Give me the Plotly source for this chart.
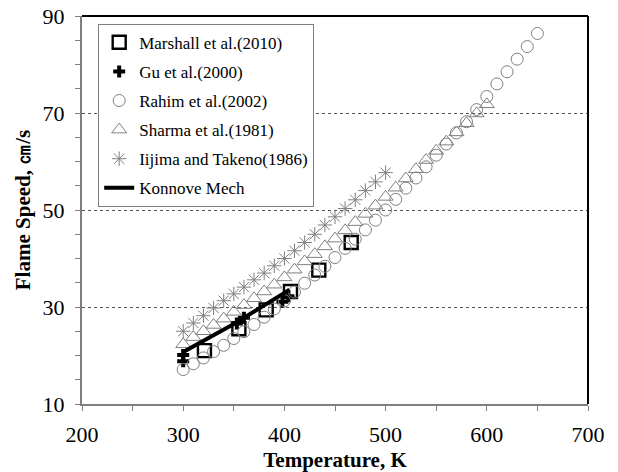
import plotly.graph_objects as go

# ---------------- data ----------------
rahim_T = [300, 310, 320, 330, 340, 350, 360, 370, 380, 390, 400, 410, 420, 430, 440, 450, 460, 470,
           480, 490, 500, 510, 520, 530, 540, 550, 560, 570, 580, 590, 600, 610, 620, 630, 640, 650]
rahim_S = [17.1, 18.3, 19.5, 20.8, 22.1, 23.5, 24.9, 26.4, 27.9, 29.6, 31.3, 33.1, 34.9, 36.6, 38.4, 40.2, 42.1, 44.0,
           45.9, 47.9, 50.0, 52.2, 54.5, 56.6, 58.9, 61.3, 63.6, 65.9, 68.2, 70.7, 73.4, 76.0, 78.5, 81.1, 83.7, 86.4]

sharma_T = [300, 310, 320, 330, 340, 350, 360, 370, 380, 390, 400, 410, 420, 430, 440, 450,
            460, 470, 480, 490, 500, 510, 520, 530, 540, 550, 560, 570, 580, 590, 600]
sharma_S = [22.3, 23.8, 25.0, 26.3, 27.6, 29.0, 30.4, 31.8, 33.2, 34.6, 36.1, 37.7, 39.4, 40.9, 42.5, 44.1,
            45.8, 47.5, 49.2, 50.9, 52.7, 54.6, 56.5, 58.4, 60.3, 62.2, 64.1, 66.0, 67.9, 69.9, 71.8]

iijima_T = [300, 310, 320, 330, 340, 350, 360, 370, 380, 390, 400, 410, 420, 430, 440, 450, 460, 470, 480, 490, 500]
iijima_S = [25.0, 26.7, 28.2, 29.8, 31.3, 32.7, 34.1, 35.6, 37.0, 38.5, 40.0, 41.6, 43.3, 45.0, 46.9, 48.6,
            50.3, 52.1, 54.0, 55.8, 57.7]

marshall_T = [321, 355, 382, 406, 434, 466]
marshall_S = [21.0, 25.5, 29.4, 33.2, 37.6, 43.3]

gu_T = [300, 300, 353, 360, 398, 404]
gu_S = [18.8, 20.1, 26.6, 27.8, 31.1, 32.2]

konnov_T = [300, 350, 400, 405]
konnov_S = [20.7, 26.5, 32.9, 33.6]

x_ticks = [200, 300, 400, 500, 600, 700]
y_ticks = [10, 30, 50, 70, 90]

FONT = "Liberation Serif"
GRAY = "#7f7f7f"

fig = go.Figure()

fig.add_trace(go.Scatter(x=marshall_T, y=marshall_S, mode="markers", name="Marshall et al.(2010)",
                         legendgroup="a",
                         marker=dict(symbol="square-open", size=13, color="black", line=dict(width=2.4, color="black"))))
fig.add_trace(go.Scatter(x=gu_T, y=gu_S, mode="markers", name="Gu et al.(2000)", legendgroup="b",
                         marker=dict(symbol="cross", size=10, color="black", line=dict(width=0))))
fig.add_trace(go.Scatter(x=rahim_T, y=rahim_S, mode="markers", name="Rahim et al.(2002)", legendgroup="c",
                         marker=dict(symbol="circle-open", size=12, color=GRAY, line=dict(width=1, color=GRAY))))
fig.add_trace(go.Scatter(x=sharma_T, y=sharma_S, mode="markers", name="Sharma et al.(1981)", legendgroup="d",
                         marker=dict(symbol="triangle-up-open", size=13, color=GRAY, line=dict(width=1, color=GRAY))))
fig.add_trace(go.Scatter(x=iijima_T, y=iijima_S, mode="markers", name="Iijima and Takeno(1986)", legendgroup="e",
                         marker=dict(symbol="asterisk-open", size=12, color=GRAY, line=dict(width=1, color=GRAY))))
fig.add_trace(go.Scatter(x=konnov_T, y=konnov_S, mode="lines", name="Konnove Mech", legendgroup="f",
                         line=dict(color="black", width=4)))

fig.update_layout(
    width=618, height=472,
    margin=dict(l=82, r=30, t=16, b=68),
    paper_bgcolor="white", plot_bgcolor="white",
    font=dict(family=FONT, color="black", size=20),
    showlegend=True,
    legend=dict(x=0.032, y=0.98, xanchor="left", yanchor="top",
                bgcolor="white", bordercolor=GRAY, borderwidth=1,
                font=dict(family=FONT, size=17, color="black"),
                tracegroupgap=4, itemwidth=30),
    xaxis=dict(range=[200, 700], tickvals=x_ticks, ticktext=[str(v) for v in x_ticks],
               automargin=False,
               showgrid=False, zeroline=False, showline=True, linecolor=GRAY, linewidth=2,
               ticks="outside", ticklen=5, tickcolor=GRAY, tickwidth=1,
               minor=dict(dtick=50, tick0=200, ticks="outside", ticklen=5, tickcolor=GRAY, showgrid=False),
               tickfont=dict(family=FONT, size=22, color="black"), ticklabelstandoff=5,
               title=dict(text="<b>Temperature, K</b>", font=dict(family=FONT, size=21, color="black"), standoff=8)),
    yaxis=dict(range=[10, 90], tickvals=y_ticks, ticktext=[str(v) for v in y_ticks],
               automargin=False,
               showgrid=True, gridcolor="#555555", griddash="dot", gridwidth=1,
               zeroline=False, showline=True, linecolor=GRAY, linewidth=2,
               ticks="outside", ticklen=5, tickcolor=GRAY, tickwidth=1,
               minor=dict(dtick=5, tick0=10, ticks="outside", ticklen=5, tickcolor=GRAY, showgrid=False),
               tickfont=dict(family=FONT, size=22, color="black"), ticklabelstandoff=6,
               title=dict(text="<b>Flame Speed, ㎝/s</b>", font=dict(family=FONT, size=21, color="black"), standoff=6)),
    shapes=[
        dict(type="line", xref="paper", yref="paper", x0=0, x1=1, y0=1, y1=1, line=dict(color="black", width=2)),
        dict(type="line", xref="paper", yref="paper", x0=1, x1=1, y0=0, y1=1, line=dict(color="black", width=2)),
    ],
)

fig.write_html("out.html")
